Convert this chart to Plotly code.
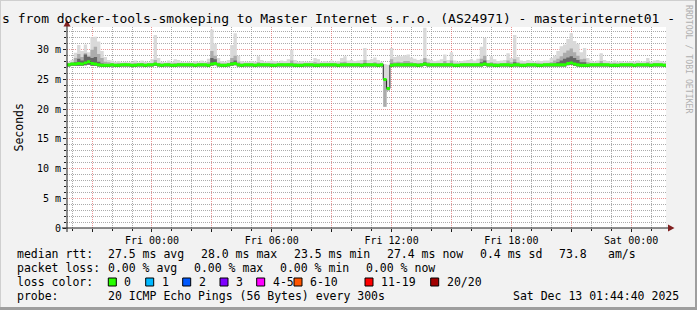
import pandas as pd
import plotly.graph_objects as go

# ---------------- data (10-minute steps, 30 hours) ----------------
step_start = "2025-12-11 19:45:00"
view_start = "2025-12-11 19:44:40"
view_end = "2025-12-13 01:44:40"

median_rtt = [
    27.5, 27.6, 27.6, 27.7, 27.6, 27.8, 28.0, 27.7, 27.6, 27.5, 27.4, 27.4, 27.4, 27.5, 27.4, 27.4, 27.5, 27.5,
    27.5, 27.4, 27.4, 27.5, 27.5, 27.4, 27.5, 27.5, 27.6, 27.5, 27.4, 27.5, 27.5, 27.4, 27.4, 27.5, 27.5, 27.5,
    27.5, 27.5, 27.4, 27.5, 27.5, 27.5, 27.4, 27.6, 27.7, 27.5, 27.4, 27.4, 27.5, 27.6, 27.7, 27.5, 27.4, 27.5,
    27.5, 27.5, 27.4, 27.5, 27.5, 27.5, 27.5, 27.4, 27.4, 27.5, 27.5, 27.5, 27.5, 27.5, 27.4, 27.4, 27.4, 27.5,
    27.5, 27.5, 27.4, 27.4, 27.5, 27.5, 27.5, 27.5, 27.5, 27.4, 27.5, 27.5, 27.5, 27.5, 27.5, 27.5, 27.4, 27.5,
    27.5, 27.5, 27.5, 27.4, 27.5, 25.0, 23.5, 27.4, 27.5, 27.5, 27.5, 27.5, 27.5, 27.5, 27.5, 27.4, 27.5, 27.6,
    27.5, 27.5, 27.5, 27.5, 27.5, 27.5, 27.5, 27.5, 27.4, 27.4, 27.5, 27.5, 27.5, 27.5, 27.5, 27.5, 27.5, 27.6,
    27.5, 27.5, 27.4, 27.4, 27.5, 27.5, 27.5, 27.4, 27.5, 27.5, 27.4, 27.4, 27.5, 27.5, 27.5, 27.4, 27.4, 27.5,
    27.5, 27.5, 27.5, 27.5, 27.5, 27.5, 27.7, 27.8, 27.6, 27.5, 27.4, 27.4, 27.4, 27.5, 27.5, 27.5, 27.5, 27.5,
    27.5, 27.4, 27.4, 27.4, 27.5, 27.5, 27.5, 27.5, 27.4, 27.5, 27.5, 27.5, 27.5, 27.4, 27.5, 27.5, 27.5, 27.4,
]

smoke_min = [
    27.2, 27.3, 27.3, 27.3, 27.3, 27.4, 27.5, 27.3, 27.3, 27.2, 27.1, 27.1, 27.1, 27.2, 27.1, 27.1, 27.2, 27.2,
    27.2, 27.1, 27.1, 27.2, 27.2, 27.1, 27.2, 27.2, 27.3, 27.2, 27.1, 27.2, 27.2, 27.1, 27.1, 27.2, 27.2, 27.2,
    27.2, 27.2, 27.1, 27.2, 27.2, 27.2, 27.1, 27.3, 27.4, 27.2, 27.1, 27.1, 27.2, 27.3, 27.4, 27.2, 27.1, 27.2,
    27.2, 27.2, 27.1, 27.2, 27.2, 27.2, 27.2, 27.1, 27.1, 27.2, 27.2, 27.2, 27.2, 27.2, 27.1, 27.1, 27.1, 27.2,
    27.2, 27.2, 27.1, 27.1, 27.2, 27.2, 27.2, 27.2, 27.2, 27.1, 27.2, 27.2, 27.2, 27.2, 27.2, 27.2, 27.1, 27.2,
    27.2, 27.2, 27.2, 27.1, 27.2, 20.4, 23.1, 27.1, 27.2, 27.2, 27.2, 27.2, 27.2, 27.2, 27.2, 27.1, 27.2, 27.3,
    27.2, 27.2, 27.2, 27.2, 27.2, 27.2, 27.2, 27.2, 27.1, 27.1, 27.2, 27.2, 27.2, 27.2, 27.2, 27.2, 27.2, 27.3,
    27.2, 27.2, 27.1, 27.1, 27.2, 27.2, 27.2, 27.1, 27.2, 27.2, 27.1, 27.1, 27.2, 27.2, 27.2, 27.1, 27.1, 27.2,
    27.2, 27.2, 27.2, 27.2, 27.2, 27.2, 27.4, 27.5, 27.3, 27.2, 27.1, 27.1, 27.1, 27.2, 27.2, 27.2, 27.2, 27.2,
    27.2, 27.1, 27.1, 27.1, 27.2, 27.2, 27.2, 27.2, 27.1, 27.2, 27.2, 27.2, 27.2, 27.1, 27.2, 27.2, 27.2, 27.1,
]

smoke_max = [
    28.0, 28.3, 29.5, 30.8, 29.8, 30.9, 29.6, 32.1, 32.2, 31.4, 29.8, 28.8, 28.3, 28.2, 28.0, 28.1, 27.9, 28.0,
    27.9, 28.0, 28.2, 27.9, 28.2, 28.0, 27.9, 28.4, 32.5, 28.6, 28.0, 27.9, 28.2, 28.0, 28.4, 28.3, 28.0, 27.9,
    28.0, 27.9, 28.1, 28.0, 28.2, 28.0, 28.5, 33.4, 31.0, 28.6, 28.1, 28.0, 28.3, 30.8, 32.8, 29.0, 28.1, 28.0,
    28.0, 28.1, 28.0, 28.9, 28.3, 28.0, 28.1, 28.2, 28.1, 28.0, 28.2, 28.1, 28.4, 30.0, 28.3, 28.0, 28.1, 28.0,
    28.0, 28.1, 28.6, 28.4, 28.0, 28.1, 28.0, 28.2, 28.0, 28.1, 28.6, 28.9, 28.2, 28.3, 28.1, 28.2, 28.3, 30.3,
    28.3, 28.4, 28.7, 28.3, 28.0, 27.6, 27.5, 30.3, 28.8, 29.0, 28.9, 29.1, 29.2, 28.7, 28.5, 28.3, 28.4, 33.7,
    28.5, 28.3, 28.1, 28.2, 28.4, 29.2, 28.3, 29.6, 28.2, 28.0, 28.1, 28.2, 28.3, 28.4, 28.2, 28.5, 30.5, 32.0,
    28.3, 28.9, 28.4, 28.1, 28.2, 28.3, 29.4, 28.6, 32.5, 28.8, 28.2, 28.1, 28.3, 28.2, 28.0, 28.2, 28.1, 28.2,
    28.2, 28.6, 29.0, 29.8, 30.6, 30.9, 31.8, 32.8, 31.5, 31.0, 29.6, 30.3, 28.6, 28.2, 28.0, 28.2, 29.4, 28.3,
    28.1, 28.0, 28.2, 28.0, 28.1, 27.9, 28.0, 28.1, 28.0, 28.2, 28.0, 28.1, 28.6, 28.0, 28.2, 28.3, 28.1, 27.9,
]

smoke_mid = [
    27.8, 27.9, 28.6, 29.3, 28.8, 29.4, 29.0, 30.0, 30.5, 29.3, 28.6, 28.0, 27.9, 27.8, 27.7, 27.8, 27.7, 27.8,
    27.7, 27.7, 27.8, 27.7, 27.8, 27.7, 27.7, 27.8, 28.3, 27.8, 27.7, 27.7, 27.8, 27.7, 27.8, 27.8, 27.7, 27.7,
    27.7, 27.7, 27.7, 27.7, 27.8, 27.7, 27.9, 29.8, 29.0, 27.9, 27.7, 27.7, 27.8, 28.6, 29.0, 28.0, 27.7, 27.7,
    27.7, 27.7, 27.7, 27.9, 27.8, 27.7, 27.7, 27.8, 27.7, 27.7, 27.8, 27.7, 27.8, 28.2, 27.8, 27.7, 27.7, 27.7,
    27.7, 27.7, 27.9, 27.8, 27.7, 27.7, 27.7, 27.8, 27.7, 27.7, 27.9, 28.0, 27.8, 27.8, 27.7, 27.8, 27.8, 28.3,
    27.8, 27.8, 27.9, 27.8, 27.7, 25.0, 23.5, 28.4, 27.9, 28.0, 27.9, 28.1, 28.1, 27.9, 27.8, 27.8, 27.8, 28.6,
    27.9, 27.8, 27.7, 27.8, 27.8, 28.1, 27.8, 28.2, 27.7, 27.7, 27.7, 27.8, 27.8, 27.8, 27.7, 27.8, 28.5, 29.0,
    27.8, 27.9, 27.8, 27.7, 27.7, 27.8, 28.2, 27.9, 28.4, 27.9, 27.7, 27.7, 27.8, 27.7, 27.7, 27.8, 27.7, 27.7,
    27.8, 27.9, 28.2, 28.5, 28.9, 29.5, 29.9, 30.2, 29.6, 29.0, 28.4, 28.5, 27.9, 27.8, 27.7, 27.8, 28.1, 27.8,
    27.7, 27.7, 27.8, 27.7, 27.7, 27.7, 27.7, 27.8, 27.7, 27.8, 27.7, 27.7, 27.9, 27.7, 27.8, 27.8, 27.7, 27.7,
]

smoke_core = [
    27.6, 27.7, 27.9, 28.5, 28.2, 29.2, 28.8, 28.6, 28.8, 28.0, 27.7, 27.6, 27.6, 27.6, 27.6, 27.6, 27.6, 27.6,
    27.6, 27.6, 27.6, 27.6, 27.6, 27.6, 27.6, 27.6, 27.8, 27.6, 27.6, 27.6, 27.6, 27.6, 27.6, 27.6, 27.6, 27.6,
    27.6, 27.6, 27.6, 27.6, 27.6, 27.6, 27.6, 28.6, 28.4, 27.6, 27.6, 27.6, 27.6, 27.9, 28.2, 27.6, 27.6, 27.6,
    27.6, 27.6, 27.6, 27.6, 27.6, 27.6, 27.6, 27.6, 27.6, 27.6, 27.6, 27.6, 27.6, 27.6, 27.6, 27.6, 27.6, 27.6,
    27.6, 27.6, 27.6, 27.6, 27.6, 27.6, 27.6, 27.6, 27.6, 27.6, 27.6, 27.6, 27.6, 27.6, 27.6, 27.6, 27.6, 27.8,
    27.6, 27.6, 27.6, 27.6, 27.6, 20.4, 23.1, 27.7, 27.6, 27.7, 27.6, 27.7, 27.7, 27.6, 27.6, 27.6, 27.6, 27.9,
    27.6, 27.6, 27.6, 27.6, 27.6, 27.6, 27.6, 27.6, 27.6, 27.6, 27.6, 27.6, 27.6, 27.6, 27.6, 27.6, 27.9, 28.2,
    27.6, 27.6, 27.6, 27.6, 27.6, 27.6, 27.6, 27.6, 27.9, 27.6, 27.6, 27.6, 27.6, 27.6, 27.6, 27.6, 27.6, 27.6,
    27.6, 27.6, 27.7, 27.9, 28.2, 28.5, 28.7, 28.9, 28.6, 28.3, 27.9, 27.9, 27.6, 27.6, 27.6, 27.6, 27.7, 27.6,
    27.6, 27.6, 27.6, 27.6, 27.6, 27.6, 27.6, 27.6, 27.6, 27.6, 27.6, 27.6, 27.6, 27.6, 27.6, 27.6, 27.6, 27.6,
]

y_tick_values = [0, 5, 10, 15, 20, 25, 30]
y_tick_labels = ["0", "5 m", "10 m", "15 m", "20 m", "25 m", "30 m"]

title_text = "s from docker-tools-smokeping to Master Internet s.r.o. (AS24971) - masterinternet01 -"
legend_rtt = [("median rtt:", 16), ("27.5 ms avg", 107.3), ("28.0 ms max", 200.0), ("23.5 ms min", 293.3),
              ("27.4 ms now", 386.0), ("0.4 ms sd", 479.3), ("73.8", 558.3), ("am/s", 606.7)]
legend_loss = [("packet loss:", 16), ("0.00 % avg", 107.3), ("0.00 % max", 193.3),
               ("0.00 % min", 279.3), ("0.00 % now", 365.0)]
loss_labels = ["0", "1", "2", "3", "4-5", "6-10", "11-19", "20/20"]
loss_colors = ["#26ff00", "#00b8ff", "#0059ff", "#7e00ff", "#ff00ff", "#ff5500", "#ff0000", "#a10000"]
loss_box_x = [108.3, 145.7, 182.7, 220.0, 256.7, 294.0, 365.0, 430.7]
probe_text = "20 ICMP Echo Pings (56 Bytes) every 300s"
stamp_text = "Sat Dec 13 01:44:40 2025"

# ---------------- figure ----------------
W, H = 697, 310
L, R, T, B = 67, 31, 27, 82
PW, PH = W - L - R, H - T - B
MONO = "DejaVu Sans Mono"


def px(x):
    return (x - L) / PW


def py(y):
    return (H - B - y) / PH


edges = pd.date_range(step_start, periods=len(median_rtt) + 1, freq="10min")


def stepped(v):
    return list(v) + [v[-1]]


fig = go.Figure()


def band(lower, upper, color):
    fig.add_trace(go.Scatter(x=edges, y=stepped(lower), mode="lines", line=dict(width=0, shape="hv"),
                             hoverinfo="skip", showlegend=False))
    fig.add_trace(go.Scatter(x=edges, y=stepped(upper), mode="lines", line=dict(width=0, shape="hv"),
                             fill="tonexty", fillcolor=color, hoverinfo="skip", showlegend=False))


band(smoke_min, smoke_max, "#d9d9d9")
band(smoke_min, smoke_mid, "#acacac")
band(smoke_min, smoke_core, "#666666")

fig.add_trace(go.Scatter(x=edges, y=stepped(median_rtt), mode="lines",
                         line=dict(width=1, color="#202020", shape="hv"), hoverinfo="skip", showlegend=False))
half = 0.25
band([m - half for m in median_rtt], [m + half for m in median_rtt], loss_colors[0])

# ticks / grid
major_x = pd.date_range("2025-12-11 21:00", "2025-12-13 00:00", freq="3h")
major_x_text = [t.strftime("%a %H:%M") if t.hour % 6 == 0 else "" for t in major_x]
minor_x = [t for t in pd.date_range("2025-12-11 20:00", "2025-12-13 01:00", freq="1h") if t.hour % 3 != 0]
minor_y = [v for v in range(1, 34) if v % 5 != 0]

grid_minor = "rgba(143,143,143,0.75)"
grid_major = "rgba(222,79,79,0.6)"
axis_col = "#1f1f1f"

fig.update_layout(
    width=W, height=H, autosize=False,
    margin=dict(l=L, r=R, t=T, b=B, pad=0),
    paper_bgcolor="#f2f2f2", plot_bgcolor="#ffffff",
    font=dict(family=MONO, size=10, color="#000000"),
    xaxis=dict(type="date", range=[view_start, view_end], tickmode="array", tickvals=major_x,
               ticktext=major_x_text, showgrid=True, gridcolor=grid_major, griddash="1px,1px", gridwidth=1,
               ticks="outside", ticklen=3, tickcolor=axis_col, tickfont=dict(family=MONO, size=10),
               zeroline=False, showline=False, fixedrange=True,
               minor=dict(tickmode="array", tickvals=minor_x, showgrid=True, gridcolor=grid_minor,
                          griddash="1px,1px", ticks="outside", ticklen=2, tickcolor=axis_col)),
    yaxis=dict(range=[0, 33.84], tickmode="array", tickvals=y_tick_values, ticktext=y_tick_labels,
               showgrid=True, gridcolor=grid_major, griddash="1px,1px", ticks="outside", ticklen=3,
               tickcolor=axis_col, tickfont=dict(family=MONO, size=10), zeroline=False, showline=False,
               fixedrange=True,
               minor=dict(tickmode="array", tickvals=minor_y, showgrid=True, gridcolor=grid_minor,
                          griddash="1px,1px", ticks="outside", ticklen=2, tickcolor=axis_col)),
)

shapes = []
# frame shading
shapes.append(dict(type="line", xref="paper", yref="paper", x0=px(0), x1=px(W), y0=py(0.5), y1=py(0.5),
                   line=dict(color="#cfcfcf", width=1)))
shapes.append(dict(type="line", xref="paper", yref="paper", x0=px(0.5), x1=px(0.5), y0=py(0), y1=py(H),
                   line=dict(color="#cfcfcf", width=1)))
shapes.append(dict(type="line", xref="paper", yref="paper", x0=px(0), x1=px(W), y0=py(H - 1.5), y1=py(H - 1.5),
                   line=dict(color="#9e9e9e", width=3)))
shapes.append(dict(type="line", xref="paper", yref="paper", x0=px(W - 1), x1=px(W - 1), y0=py(0), y1=py(H),
                   line=dict(color="#9e9e9e", width=2)))
# axes
shapes.append(dict(type="line", xref="paper", yref="paper", x0=px(62), x1=px(670), y0=py(228), y1=py(228),
                   line=dict(color=axis_col, width=1)))
shapes.append(dict(type="line", xref="paper", yref="paper", x0=px(67), x1=px(67), y0=py(232), y1=py(25),
                   line=dict(color=axis_col, width=1)))
# arrows
shapes.append(dict(type="path", xref="paper", yref="paper", fillcolor="#801f1f", line=dict(width=0),
                   path=f"M {px(67)},{py(20)} L {px(63.5)},{py(26.5)} L {px(70.5)},{py(26.5)} Z"))
shapes.append(dict(type="path", xref="paper", yref="paper", fillcolor="#801f1f", line=dict(width=0),
                   path=f"M {px(674.5)},{py(228)} L {px(668)},{py(224.5)} L {px(668)},{py(231.5)} Z"))
# loss colour boxes
for bx, col in zip(loss_box_x, loss_colors):
    shapes.append(dict(type="rect", xref="paper", yref="paper", x0=px(bx), x1=px(bx + 8),
                       y0=py(278), y1=py(286), fillcolor=col, line=dict(color="#000000", width=1)))
fig.update_layout(shapes=shapes)

ann = []


def text(s, x, y, size=11.5, anchor="left", angle=0, color="#000000"):
    ann.append(dict(text=s, x=px(x), y=py(y), xref="paper", yref="paper", xanchor=anchor, yanchor="middle",
                    showarrow=False, textangle=angle, borderpad=0,
                    font=dict(family=MONO, size=size, color=color)))


text(title_text, 0.5, 18.3, size=13)
text("Seconds", 10, 127.5, angle=-90)
text("RRDTOOL / TOBI OETIKER", 683, 59, size=8.2, angle=90, color="#b0b0b0")
for s, x in legend_rtt:
    text(s, x, 253.8)
for s, x in legend_loss:
    text(s, x, 267.8)
text("loss color:", 16, 281.5)
for bx, lab in zip(loss_box_x, loss_labels):
    text(lab, bx + 15, 281.5)
text("probe:", 16, 295.5)
text(probe_text, 107.3, 295.5)
text(stamp_text, 680.5, 295.5, anchor="right")
fig.update_layout(annotations=ann)

fig.write_html("out.html")
